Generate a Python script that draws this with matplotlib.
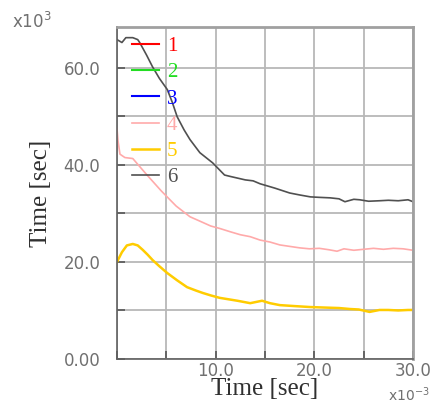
import numpy as np
import matplotlib
matplotlib.use('Agg')
import matplotlib.pyplot as plt

# series 6 (dark gray)
x6 = [0.0, 0.5, 0.9, 1.6, 2.1, 2.3, 3.0, 3.6, 4.3, 5.1, 5.6, 6.1, 6.8, 7.4, 8.4, 9.7,
      10.9, 11.5, 13.0, 13.8, 14.5, 16.0, 17.5, 18.5, 19.6, 20.5, 21.6, 22.5, 23.1,
      24.0, 24.6, 25.5, 26.6, 27.5, 28.5, 29.5, 30.0]
y6 = [65.8, 65.2, 66.2, 66.2, 65.8, 65.2, 62.6, 60.2, 57.8, 55.5, 52.9, 49.9, 47.2, 45.2,
      42.5, 40.4, 37.9, 37.6, 36.9, 36.7, 36.1, 35.2, 34.2, 33.8, 33.4, 33.3, 33.2,
      33.0, 32.4, 32.9, 32.8, 32.5, 32.6, 32.7, 32.6, 32.8, 32.4]

# series 4 (pink)
x4 = [0.0, 0.1, 0.3, 0.8, 1.6, 3.0, 4.5, 6.0, 7.4, 8.4, 9.5, 10.4, 11.5, 12.5, 13.5,
      14.5, 15.5, 16.5, 17.5, 18.5, 19.5, 20.5, 21.5, 22.3, 23.0, 24.0, 25.0, 26.0,
      27.0, 28.0, 29.0, 30.0]
y4 = [47.5, 45.0, 42.2, 41.5, 41.3, 38.0, 34.6, 31.5, 29.3, 28.4, 27.4, 26.9, 26.2,
      25.6, 25.2, 24.5, 24.1, 23.5, 23.2, 22.9, 22.7, 22.8, 22.5, 22.2, 22.7, 22.4,
      22.6, 22.8, 22.6, 22.8, 22.7, 22.4]

# series 5 (gold)
x5 = [0.0, 0.5, 1.0, 1.6, 2.1, 2.6, 3.1, 3.6, 4.3, 5.1, 6.1, 7.1, 8.0, 8.7, 9.5, 10.4,
      11.3, 12.2, 13.5, 14.7, 15.5, 16.5, 18.0, 19.6, 21.0, 22.5, 23.6, 24.5, 25.6,
      26.6, 27.5, 28.5, 29.5, 30.0]
y5 = [20.0, 22.0, 23.4, 23.7, 23.4, 22.5, 21.5, 20.4, 19.1, 17.7, 16.2, 14.8, 14.1,
      13.6, 13.1, 12.6, 12.3, 12.0, 11.5, 12.0, 11.5, 11.1, 10.9, 10.7, 10.6, 10.5,
      10.3, 10.2, 9.7, 10.1, 10.1, 10.0, 10.1, 10.1]

labels = ['1', '2', '3', '4', '5', '6']
colors = ['#ff0000', '#22dd22', '#0000ff', '#ffaaaa', '#ffcc00', '#505050']

fig = plt.figure(figsize=(4.39, 4.04), dpi=100)
ax = fig.add_axes([0.2665, 0.1114, 0.6743, 0.8218])

# series 1-3 have no visible data in the chart
ax.plot([], [], color=colors[0], lw=1.5, label=labels[0])
ax.plot([], [], color=colors[1], lw=1.5, label=labels[1])
ax.plot([], [], color=colors[2], lw=1.5, label=labels[2])
ax.plot(x4, y4, color=colors[3], lw=1.2, label=labels[3])
ax.plot(x5, y5, color=colors[4], lw=1.8, label=labels[4])
ax.plot(x6, y6, color=colors[5], lw=1.2, label=labels[5])

ax.set_xlim(0, 30)
ax.set_ylim(0, 68.4)
ax.set_xticks(np.arange(0, 31, 5))
ax.set_xticklabels(['', '', '10.0', '', '20.0', '', '30.0'])
ax.set_yticks(np.arange(0, 61, 10))
ax.set_yticklabels(['0.00', '', '20.0', '', '40.0', '', '60.0'])
ax.grid(True, color='#b8b8b8', lw=1.3)
ax.set_axisbelow(True)
ax.tick_params(direction='in', length=6, width=1.2, color='#555555',
               labelcolor='#707070', labelsize=12)
ax.tick_params(axis='y', pad=12)
ax.tick_params(axis='x', pad=2)

for s in ['left', 'bottom']:
    ax.spines[s].set_color('#606060')
    ax.spines[s].set_linewidth(1.2)
for s in ['top', 'right']:
    ax.spines[s].set_color('#a0a0a0')
    ax.spines[s].set_linewidth(2)

ax.set_xlabel('Time [sec]', family='Liberation Serif', fontsize=18, color='#303030',
              labelpad=-1)
ax.set_ylabel('Time [sec]', family='Liberation Serif', fontsize=18, color='#303030',
              labelpad=8)

fig.text(0.027, 0.93, r'x10$^3$', fontsize=12, color='#707070')
fig.text(0.884, 0.008, r'x10$^{-3}$', fontsize=10, color='#707070')

leg = ax.legend(loc='upper left', bbox_to_anchor=(0.0, 1.015), frameon=False,
                handlelength=1.3, handletextpad=0.4, labelspacing=0.32,
                prop={'family': 'Liberation Serif', 'size': 15},
                labelcolor='linecolor', borderpad=0.2)

plt.savefig('out.png', dpi=100)
